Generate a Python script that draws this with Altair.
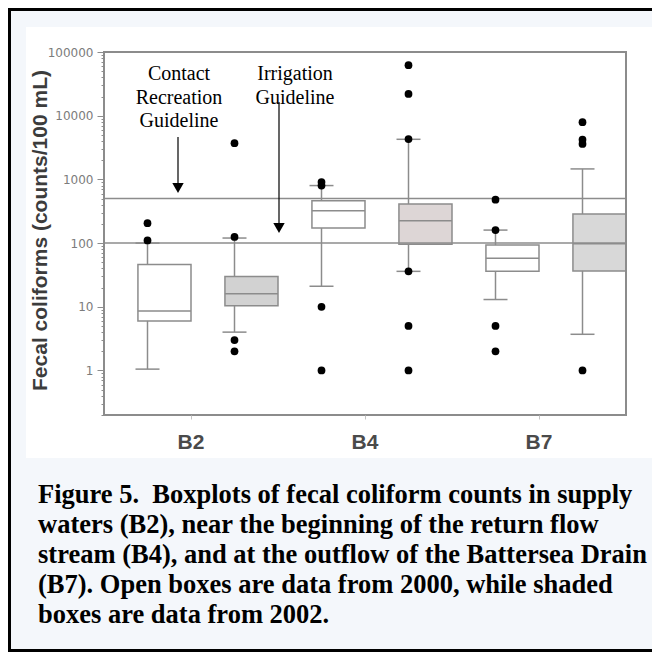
import altair as alt
import pandas as pd

# ---------------- data ----------------
sites = ["B2", "B2", "B4", "B4", "B7", "B7"]
years = ["2000", "2002", "2000", "2002", "2000", "2002"]
whisker_low = [1.05, 4.0, 21, 36, 13, 3.7]
q1 = [6.0, 10.4, 172, 96, 36, 36.6]
median = [8.6, 16.0, 323, 224, 58, 98]
q3 = [46, 30, 464, 411, 93, 286]
whisker_high = [100, 120, 800, 4260, 160, 1460]
box_fill = ["#ffffff", "#d2d2d2", "#ffffff", "#ddd6d6", "#ffffff", "#d8d8d8"]

outlier_site = ["B2", "B2",
                "B2", "B2", "B2", "B2",
                "B4", "B4", "B4", "B4",
                "B4", "B4", "B4", "B4", "B4", "B4",
                "B7", "B7", "B7", "B7",
                "B7", "B7", "B7", "B7"]
outlier_year = ["2000", "2000",
                "2002", "2002", "2002", "2002",
                "2000", "2000", "2000", "2000",
                "2002", "2002", "2002", "2002", "2002", "2002",
                "2000", "2000", "2000", "2000",
                "2002", "2002", "2002", "2002"]
outlier_value = [110, 205,
                 125, 3700, 3.0, 2.0,
                 800, 910, 10, 1,
                 4300, 22000, 62000, 36, 5, 1,
                 160, 480, 5, 2,
                 3600, 4200, 7900, 1]

guidelines = [100, 500]
y_major = [1, 10, 100, 1000, 10000, 100000]
y_minor = [0.2, 0.3, 0.4, 0.5, 0.6, 0.7, 0.8, 0.9,
           2, 3, 4, 5, 6, 7, 8, 9,
           20, 30, 40, 50, 60, 70, 80, 90,
           200, 300, 400, 500, 600, 700, 800, 900,
           2000, 3000, 4000, 5000, 6000, 7000, 8000, 9000,
           20000, 30000, 40000, 50000, 60000, 70000, 80000, 90000]

annot_contact = ["Contact", "Recreation", "Guideline"]
annot_irrig = ["Irrigation", "Guideline"]
caption = [
    "Figure 5.\u00a0 Boxplots of fecal coliform counts in supply",
    "waters (B2), near the beginning of the return flow",
    "stream (B4), and at the outflow of the Battersea Drain",
    "(B7). Open boxes are data from 2000, while shaded",
    "boxes are data from 2002.",
]

box_df = pd.DataFrame({"site": sites, "year": years, "lo": whisker_low, "q1": q1,
                       "med": median, "q3": q3, "hi": whisker_high, "fill": box_fill})
out_df = pd.DataFrame({"site": outlier_site, "year": outlier_year, "value": outlier_value})
guide_df = pd.DataFrame({"v": guidelines})
one = pd.DataFrame({"k": [0]})

# ---------------- geometry ----------------
W, H = 522, 363
PAD_L, PAD_T = 96, 44
TOTAL_W, TOTAL_H = 644, 644
GRAY = "#8c8c8c"

major_test = "indexof([1,10,100,1000,10000,100000], datum.value) >= 0"
yscale = alt.Scale(type="log", domain=[0.2, 100000], nice=False)
y_axis = alt.Axis(
    values=y_major + y_minor,
    labelExpr=f"{major_test} ? format(datum.value, 'd') : ''",
    tickSize={"condition": {"test": major_test, "value": 7}, "value": 3},
    tickColor=GRAY, tickWidth=1, domain=False, grid=False,
    labelFont="DejaVu Sans", labelFontSize=12, labelColor="#7c7c7c", labelPadding=4,
    title="Fecal coliforms (counts/100 mL)",
    titleFont="Liberation Sans", titleFontSize=21, titleFontWeight="bold", titleColor="#3c3c3c",
    titleAngle=-90, titleAlign="center", titleBaseline="middle",
    titleX=-64, titleY=178, zindex=1,
)


def Y(field):
    return alt.Y(field, type="quantitative", scale=yscale, axis=y_axis)


x_enc = alt.X("site:N", title=None, sort=["B2", "B4", "B7"],
              scale=alt.Scale(paddingInner=0, paddingOuter=0),
              axis=alt.Axis(labelFont="Liberation Sans", labelFontSize=21, labelFontWeight="bold",
                            labelColor="#4a4a4a", labelAngle=0, tickSize=4, tickColor="#c4c4c4",
                            labelPadding=12, domain=False, zindex=1))
xo_enc = alt.XOffset("year:N", sort=["2000", "2002"], scale=alt.Scale(paddingInner=0, paddingOuter=0))

# ---------------- decorations ----------------
white_panel = alt.Chart(one).mark_rect(color="white").encode(
    x=alt.value(-78), x2=alt.value(TOTAL_W - PAD_L), y=alt.value(-25), y2=alt.value(406))

frame_left = alt.Chart(one).mark_rule(color="black", strokeWidth=3).encode(
    x=alt.value(-PAD_L + 1.5), y=alt.value(-PAD_T), y2=alt.value(TOTAL_H - PAD_T))
frame_top = alt.Chart(one).mark_rule(color="black", strokeWidth=3).encode(
    x=alt.value(-PAD_L), x2=alt.value(TOTAL_W - PAD_L), y=alt.value(-PAD_T + 1.5))
frame_bottom = alt.Chart(one).mark_rule(color="black", strokeWidth=3).encode(
    x=alt.value(-PAD_L), x2=alt.value(TOTAL_W - PAD_L), y=alt.value(TOTAL_H - PAD_T - 1.5))

plot_frame = alt.Chart(one).mark_rect(fillOpacity=0, stroke=GRAY, strokeWidth=2).encode(
    x=alt.value(0), x2=alt.value(W), y=alt.value(0), y2=alt.value(H))

# ---------------- boxplots ----------------
base = alt.Chart(box_df)
boxes = base.mark_bar(width=alt.RelativeBandSize(0.61), stroke=GRAY, strokeWidth=1.5).encode(
    x=x_enc, xOffset=xo_enc, y=Y("q1"), y2="q3", fill=alt.Fill("fill:N", scale=None))
whisk_hi = base.mark_rule(color=GRAY, strokeWidth=1.5).encode(
    x=x_enc, xOffset=xo_enc, y=Y("q3"), y2="hi")
whisk_lo = base.mark_rule(color=GRAY, strokeWidth=1.5).encode(
    x=x_enc, xOffset=xo_enc, y=Y("lo"), y2="q1")
cap_hi = base.mark_point(shape="stroke", size=576, filled=False, stroke=GRAY, strokeWidth=1.5, opacity=1).encode(
    x=x_enc, xOffset=xo_enc, y=Y("hi"))
cap_lo = base.mark_point(shape="stroke", size=576, filled=False, stroke=GRAY, strokeWidth=1.5, opacity=1).encode(
    x=x_enc, xOffset=xo_enc, y=Y("lo"))
medians = base.mark_bar(width=alt.RelativeBandSize(0.61), stroke=GRAY, strokeWidth=1.5, fillOpacity=0).encode(
    x=x_enc, xOffset=xo_enc, y=Y("med"), y2="med")

guides = alt.Chart(guide_df).mark_rule(color=GRAY, strokeWidth=1.5).encode(y=Y("v"))

outliers = alt.Chart(out_df).mark_circle(size=60, color="black", opacity=1).encode(
    x=x_enc, xOffset=xo_enc, y=Y("value"))

# ---------------- annotations ----------------
txt_contact = alt.Chart(one).mark_text(font="Liberation Serif", fontSize=20, color="black",
                                       align="center", baseline="alphabetic", lineHeight=23.5).encode(
    x=alt.value(75), y=alt.value(28), text=alt.value(annot_contact))
txt_irrig = alt.Chart(one).mark_text(font="Liberation Serif", fontSize=20, color="black",
                                     align="center", baseline="alphabetic", lineHeight=23.5).encode(
    x=alt.value(191), y=alt.value(28), text=alt.value(annot_irrig))

arrow1 = alt.Chart(one).mark_rule(color="black", strokeWidth=1.2).encode(
    x=alt.value(74), y=alt.value(85), y2=alt.value(136))
head1 = alt.Chart(one).mark_point(shape="triangle-down", size=130, filled=True, color="black", opacity=1).encode(
    x=alt.value(74), y=alt.value(136))
arrow2 = alt.Chart(one).mark_rule(color="black", strokeWidth=1.2).encode(
    x=alt.value(175), y=alt.value(50), y2=alt.value(176))
head2 = alt.Chart(one).mark_point(shape="triangle-down", size=130, filled=True, color="black", opacity=1).encode(
    x=alt.value(175), y=alt.value(176))

cap_text = alt.Chart(one).mark_text(font="Liberation Serif", fontSize=26.5, fontWeight="bold", color="black",
                                    align="left", baseline="alphabetic", lineHeight=30).encode(
    x=alt.value(38 - 104), y=alt.value(451), text=alt.value(caption))

chart = alt.layer(
    white_panel, frame_left, frame_top, frame_bottom,
    boxes, whisk_hi, whisk_lo, cap_hi, cap_lo, medians, guides, outliers, plot_frame,
    txt_contact, txt_irrig, arrow1, head1, arrow2, head2, cap_text,
).properties(
    width=W, height=H,
    autosize=alt.AutoSizeParams(type="none"),
    padding={"left": PAD_L, "top": PAD_T, "right": TOTAL_W - PAD_L - W, "bottom": TOTAL_H - PAD_T - H},
    background="#f4f7fb",
).configure_view(stroke=None)

chart.save("out.html", embed_options={"renderer": "svg", "actions": False})
